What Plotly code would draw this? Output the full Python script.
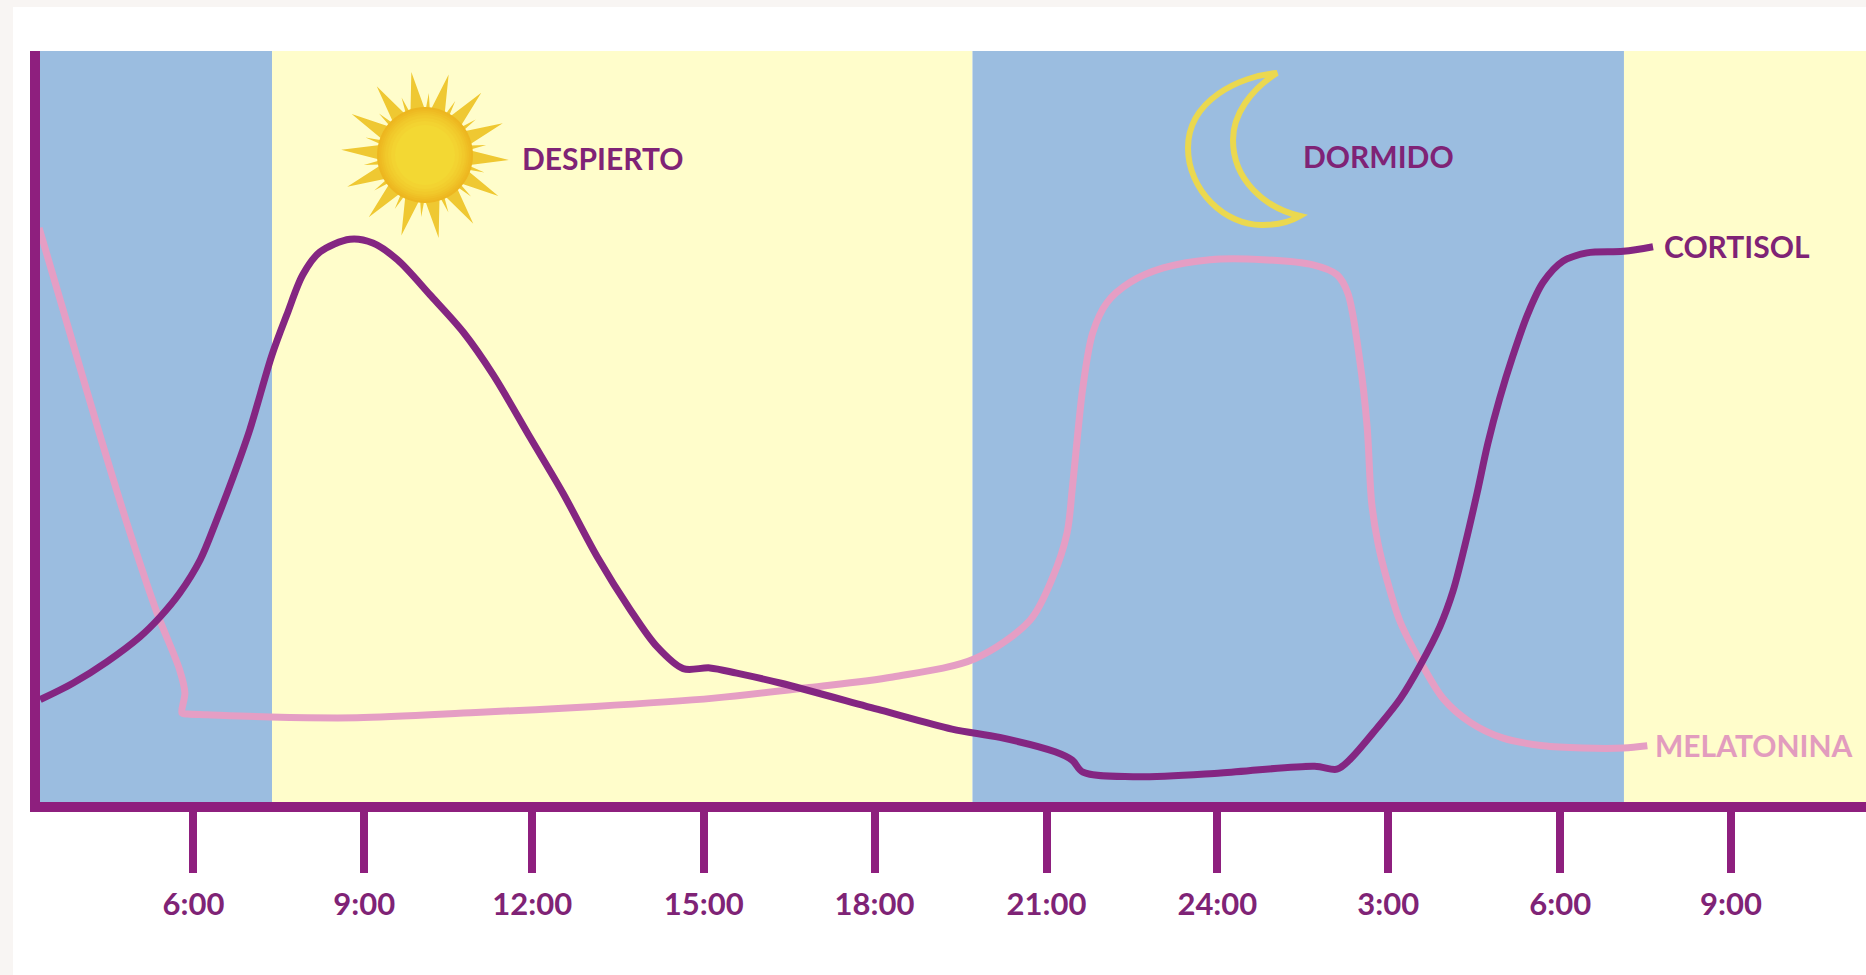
import math
import plotly.graph_objects as go

# Hours since midnight of day one (27 = 3:00 next day); level is a 0-100 relative scale
cortisol_hours = [3.31,3.89,4.48,5.06,5.41,5.76,6.12,6.41,6.70,6.99,7.38,7.64,7.92,8.22,8.75,9.15,9.58,10.16,10.74,11.27,11.91,12.49,13.09,13.67,14.14,14.60,15.07,15.54,16.30,18.07,19.32,20.16,21.13,21.43,21.62,22.50,24.04,25.69,26.08,26.31,26.78,27.19,27.54,27.89,28.12,28.33,28.54,28.73,28.94,29.17,29.43,29.70,30.05,30.47,31.11,31.63]
cortisol_level = [14.2,16.4,19.2,22.5,25.1,28.3,32.7,38.0,43.7,49.9,59.8,65.1,70.4,73.4,75.1,74.6,72.4,67.7,62.8,57.1,48.9,41.5,33.1,26.1,21.2,18.3,18.4,17.7,16.4,12.8,10.3,9.2,7.3,6.2,4.6,4.0,4.5,5.4,5.0,6.3,10.4,14.3,18.7,23.9,28.6,34.7,41.5,48.1,54.1,59.7,65.2,69.4,72.2,73.3,73.5,74.1]
melatonin_hours = [3.29,3.80,4.33,4.83,5.36,5.76,5.85,5.80,5.90,6.24,7.35,8.87,10.96,13.05,15.14,16.81,18.28,19.72,20.69,21.09,21.34,21.43,21.53,21.62,21.79,22.04,22.45,23.03,23.85,24.78,25.66,26.08,26.27,26.48,26.61,26.69,26.80,26.96,27.19,27.54,27.95,28.42,29.00,29.70,30.40,31.11,31.53]
melatonin_level = [76.6,63.5,49.9,37.6,25.7,18.1,15.1,12.4,12.3,12.2,11.9,11.8,12.5,13.3,14.4,15.8,17.2,19.6,24.7,30.4,36.2,41.9,49.5,55.6,62.7,66.7,69.4,71.3,72.4,72.4,71.7,70.4,68.0,59.1,50.3,40.2,34.9,30.0,24.5,19.3,14.3,11.2,9.1,8.1,7.8,7.8,8.1]
tick_hours = [6,9,11.95,14.96,17.96,20.98,23.98,26.98,30,33]
tick_labels = ["6:00","9:00","12:00","15:00","18:00","21:00","24:00","3:00","6:00","9:00"]
band_edges = [3.3,7.38,19.68,31.12,35.4]
band_states = ["sleep","awake","sleep","awake"]

W, H = 1866, 975
PURPLE = "#8E1F7E"
CORT = "#842682"
PINK = "#E59EC4"
BLUE = "#9BBDE0"
YELLOW = "#FFFDCB"
FONT = "Lato"

def px(x): return x / W
def py(y): return 1 - y / H

shapes = []
shapes.append(dict(type="rect", xref="paper", yref="paper", x0=px(13), x1=1, y0=0, y1=py(7),
                   fillcolor="white", line_width=0, layer="below"))
for i, state in enumerate(band_states):
    shapes.append(dict(type="rect", xref="x", yref="y", x0=band_edges[i], x1=band_edges[i+1], y0=0, y1=100,
                       fillcolor=BLUE if state == "sleep" else YELLOW, line_width=0, layer="below"))

# sun decoration: 14 long rays, 14 short rays between them
cx, cy = 425, 155
ray_step = 360 / 14
ray_start = 3.5
pts = []
def polar(deg, r):
    a = math.radians(deg)
    return (cx + r * math.cos(a), cy + r * math.sin(a))
for k in range(14):
    a = ray_start + k * ray_step
    pts += [polar(a - 9, 46), polar(a, 84), polar(a + 9, 46),
            polar(a + ray_step / 2 - 2.5, 46), polar(a + ray_step / 2, 62), polar(a + ray_step / 2 + 2.5, 46)]
sun = "M" + " L".join(f"{px(x):.5f},{py(y):.5f}" for x, y in pts) + " Z"
shapes.append(dict(type="path", xref="paper", yref="paper", path=sun, fillcolor="#EFC832", line_width=0, layer="above"))
for rad, col in [(48,"#EDB61F"),(46,"#EEBA22"),(44,"#EFBF25"),(42,"#F0C428"),(40,"#F1C92B"),(37,"#F2CE2E"),(34,"#F3D331"),(30,"#F3D833")]:
    shapes.append(dict(type="circle", xref="paper", yref="paper", x0=px(cx-rad), x1=px(cx+rad),
                       y0=py(cy+rad), y1=py(cy-rad), fillcolor=col, line_width=0, layer="above"))

# moon decoration
moon = [("M",(1277,73)),("C",(1240,76),(1188,100),(1188,148)),("C",(1188,190),(1225,226),(1263,225)),
        ("C",(1280,225),(1290,222),(1300,216)),("C",(1265,208),(1233,180),(1233,140)),("C",(1233,115),(1250,90),(1277,73))]
mp = " ".join(c[0] + " ".join(f"{px(x):.5f},{py(y):.5f}" for x, y in c[1:]) for c in moon) + " Z"
shapes.append(dict(type="path", xref="paper", yref="paper", path=mp, line=dict(color="#EBD84F", width=6), layer="above"))

def label(text, x, y, color):
    return dict(text=f"<b>{text}</b>", xref="paper", yref="paper", x=px(x), y=py(y), xanchor="left", yanchor="middle",
                showarrow=False, font=dict(family=FONT, size=30, color=color))

fig = go.Figure()
fig.add_trace(go.Scatter(x=melatonin_hours, y=melatonin_level, mode="lines", name="MELATONINA",
                         line=dict(color=PINK, width=7, shape="spline", smoothing=0.9), hoverinfo="skip"))
fig.add_trace(go.Scatter(x=cortisol_hours, y=cortisol_level, mode="lines", name="CORTISOL",
                         line=dict(color=CORT, width=7, shape="spline", smoothing=0.9), hoverinfo="skip"))

fig.update_layout(
    width=W, height=H, margin=dict(l=0, r=0, t=0, b=0), autosize=False,
    paper_bgcolor="#F8F5F3", plot_bgcolor="rgba(0,0,0,0)", showlegend=False,
    shapes=shapes,
    annotations=[label("DESPIERTO", 520, 158, "#7F2376"), label("DORMIDO", 1301, 156, "#7F2376"),
                 label("CORTISOL", 1662, 246, "#7F2376"), label("MELATONINA", 1653, 745, "#E29CBE")],
    xaxis=dict(domain=[px(40), 1], range=[band_edges[0]+0.006, 35.37], tickmode="array", tickvals=tick_hours, ticktext=tick_labels,
               showgrid=False, zeroline=False, showline=True, linewidth=10, linecolor=PURPLE,
               ticks="outside", ticklen=61, tickwidth=8, tickcolor=PURPLE, ticklabelstandoff=5,
               tickfont=dict(family=FONT, size=31, color="#7F2376", weight="bold")),
    yaxis=dict(domain=[py(802), py(51)], range=[0.66, 100], showticklabels=False, ticks="", showgrid=False, zeroline=False,
               showline=True, linewidth=10, linecolor=PURPLE),
)
fig.write_html("out.html", config={"displayModeBar": False},
               post_script="document.body.style.margin='0';document.documentElement.style.overflow='hidden';")
